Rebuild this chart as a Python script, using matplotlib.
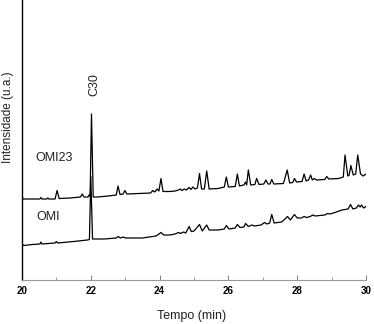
import matplotlib
matplotlib.use('Agg')
import matplotlib.pyplot as plt
from matplotlib.ticker import MultipleLocator

plt.rcParams['font.family'] = ['Liberation Sans', 'DejaVu Sans']

# chromatogram vertices (time in min, intensity in a.u.)
omi23_t = [20.00, 20.03, 20.30, 20.52, 20.55, 20.58, 20.72, 20.75, 20.78, 20.96,
           21.02, 21.08, 21.40, 21.70, 21.75, 21.80, 21.92, 21.95, 21.98, 22.02,
           22.07, 22.20, 22.50, 22.74, 22.79, 22.85, 22.94, 22.99, 23.05, 23.40,
           23.74, 23.80, 23.86, 23.93, 23.98, 24.04, 24.10, 24.30, 24.45, 24.55,
           24.60, 24.65, 24.72, 24.78, 24.86, 24.91, 24.97, 25.03, 25.10, 25.16,
           25.22, 25.30, 25.37, 25.44, 25.70, 25.88, 25.94, 26.00, 26.20, 26.26,
           26.32, 26.45, 26.50, 26.53, 26.58, 26.65, 26.77, 26.82, 26.89, 27.03,
           27.09, 27.15, 27.21, 27.26, 27.32, 27.60, 27.71, 27.78, 27.87, 27.92,
           27.98, 28.14, 28.20, 28.26, 28.33, 28.39, 28.44, 28.50, 28.56, 28.80,
           28.86, 28.92, 29.20, 29.34, 29.39, 29.47, 29.51, 29.56, 29.63, 29.70,
           29.76, 29.84, 29.92, 30.00]
omi23_y = [84, 81, 81, 81, 82.5, 81, 81, 82, 81, 81,
           89.5, 81.5, 82, 83, 86, 83, 83, 85, 84, 166,
           83, 83, 84, 85, 94, 85.5, 86, 89.5, 86, 86.5,
           87, 89.5, 88, 91, 89, 101.5, 88.5, 88.5, 89, 90,
           91, 89.5, 91, 90, 92.5, 90.5, 93, 91, 92, 106.5,
           91, 91, 109, 91, 91.5, 93, 103, 93, 93.5, 106,
           94, 95, 98, 95, 110, 95, 95.5, 101.5, 95.5, 96,
           100, 96, 96, 100.5, 96, 96.5, 110, 97, 97.5, 101.5,
           98, 98.5, 106, 99, 100, 105, 100, 101.5, 100, 100.5,
           103.5, 101, 101.5, 103, 125, 104, 105, 114.5, 105, 106,
           125, 106, 104, 106]

omi_t = [20.00, 20.05, 20.30, 20.52, 20.55, 20.58, 20.96, 21.00, 21.04, 21.50,
         21.90, 21.96, 22.00, 22.05, 22.40, 22.74, 22.80, 22.86, 22.95, 23.00,
         23.50, 23.90, 24.04, 24.12, 24.30, 24.45, 24.55, 24.60, 24.70, 24.76,
         24.86, 24.92, 25.00, 25.16, 25.24, 25.37, 25.44, 25.70, 25.88, 25.94,
         26.02, 26.20, 26.26, 26.34, 26.45, 26.50, 26.58, 26.68, 26.76, 26.95,
         27.05, 27.12, 27.20, 27.26, 27.33, 27.55, 27.72, 27.80, 27.92, 28.00,
         28.12, 28.20, 28.27, 28.38, 28.45, 28.52, 28.80, 28.88, 28.95, 29.10,
         29.30, 29.48, 29.55, 29.62, 29.72, 29.78, 29.83, 29.87, 29.93, 30.00]
omi_y = [36, 34.5, 35.5, 36, 38, 36, 37, 38.5, 37, 38.5,
         40, 40.5, 103.5, 41, 41, 42, 43.5, 42, 43, 42,
         42, 44, 47.5, 45, 45, 46, 47.5, 46.5, 48, 47,
         53.5, 48.5, 49, 55.5, 49, 55, 50, 50, 51, 54.5,
         51, 52, 55.5, 52.5, 53, 56.5, 53.5, 55, 54, 55,
         57.5, 56, 57, 65.5, 57, 58, 63.5, 60, 65.5, 62,
         62, 63.5, 62.5, 63.5, 65, 64, 65, 66.5, 66, 67.5,
         70, 71, 75.5, 71, 72, 75, 73, 75, 72, 73.5]

fig = plt.figure(figsize=(3.74, 3.24), dpi=100)
ax = fig.add_axes([22 / 374, 44 / 324, 344 / 374, 280 / 324])

ax.plot(omi23_t, omi23_y, color='black', lw=0.9)
ax.plot(omi_t, omi_y, color='black', lw=0.9)

ax.set_xlim(20, 30)
ax.set_ylim(0, 280)

ax.text(20.38, 122, 'OMI23', fontsize=9, color='#222222', va='center')
ax.text(20.41, 63, 'OMI', fontsize=9, color='#222222', va='center')
ax.text(22.1, 195.5, 'C30', fontsize=9, color='#222222', rotation=90,
        ha='center', va='center')

ax.spines['top'].set_visible(False)
ax.spines['right'].set_visible(False)
ax.spines['bottom'].set_color('#999999')
ax.spines['left'].set_linewidth(1.0)

ax.xaxis.set_major_locator(MultipleLocator(2))
ax.xaxis.set_minor_locator(MultipleLocator(1))
ax.tick_params(axis='x', which='major', direction='in', length=3.5, color='#888888',
               labelsize=7, pad=4)
ax.tick_params(axis='x', which='minor', direction='in', length=2.5, color='#888888')
for lab in ax.get_xticklabels():
    lab.set_fontweight('bold')
ax.set_yticks([])

ax.set_xlabel('Tempo (min)', fontsize=9, color='#222222')
ax.xaxis.set_label_coords(0.494, -0.107)
ax.set_ylabel('Intensidade (u.a.)', fontsize=8.5, color='#222222')
ax.yaxis.set_label_coords(-0.024, 0.582)

fig.savefig('out.png', dpi=100)
